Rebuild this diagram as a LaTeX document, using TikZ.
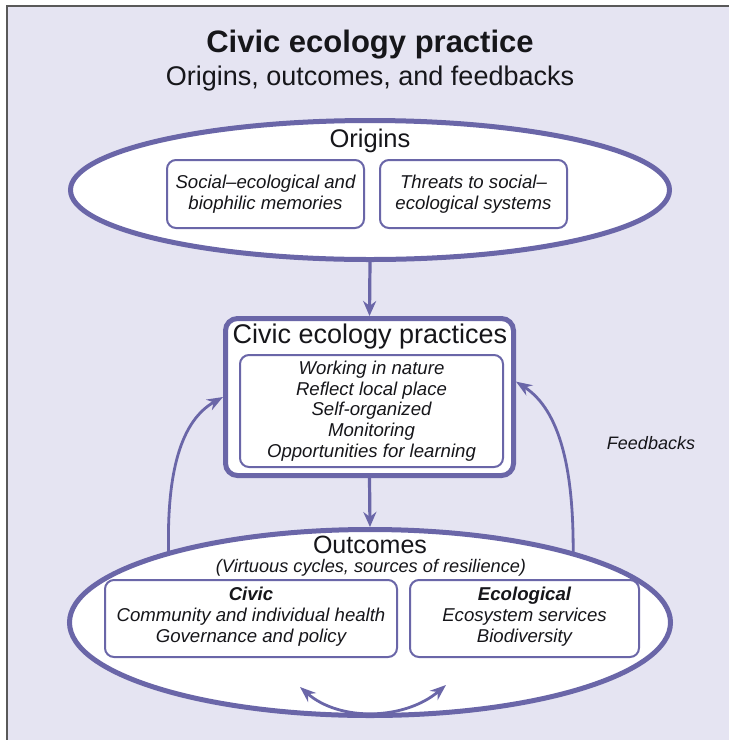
\documentclass[tikz,border=0pt]{standalone}
\usepackage{fontspec}
\setmainfont{Liberation Sans}
\usetikzlibrary{shapes.geometric,arrows.meta}
\definecolor{bgl}{RGB}{229,228,242}
\definecolor{pur}{RGB}{106,102,168}
\definecolor{txt}{RGB}{22,22,26}
\tikzset{
  bigshape/.style={draw=pur, line width=5pt, fill=white, inner sep=0pt},
  inbox/.style={draw=pur, line width=2pt, fill=white, rounded corners=9pt, inner sep=0pt},
  head/.style={text=txt, font=\fontsize{25.5}{30}\selectfont, anchor=base},
  body/.style={text=txt, font=\fontsize{18.6}{21}\selectfont\itshape, align=center},
  mainarrow/.style={draw=pur, line width=3.2pt, -{Stealth[length=15pt,width=13pt]}},
  fbarrow/.style={draw=pur, line width=2.8pt, -{Stealth[length=16pt,width=12pt]}},
}
\begin{document}
\begin{tikzpicture}[x=1pt,y=-1pt]
\useasboundingbox (0,0) rectangle (729,740);
\fill[white] (0,0) rectangle (729,740);
\fill[bgl] (7,6) rectangle (729,740);
\draw[line width=1.5pt, black!65] (7,740) -- (7,6) -- (729,6);

% titles
\node[text=txt, font=\fontsize{31}{36}\selectfont\bfseries, anchor=base] (title) at (370,52) {Civic ecology practice};
\node[text=txt, font=\fontsize{27}{32}\selectfont, anchor=base] (subtitle) at (370,85) {Origins, outcomes, and feedbacks};

% practices box (shape)
\node[bigshape, rounded corners=12pt, minimum width=288pt, minimum height=157pt] (prac) at (369.5,397) {};

% feedback arrows (below the outcomes ellipse)
\coordinate (fbl) at (169,565);
\coordinate (fbr) at (573,565);
\draw[fbarrow] (fbl) .. controls (165,470) and (182,420) .. (prac.west);
\draw[fbarrow] (fbr) .. controls (575,470) and (560,410) .. (prac.6);

% origins ellipse
\node[bigshape, ellipse, minimum width=599pt, minimum height=139pt] (orig) at (370,190) {};
\node[head] (origt) at (370,147) {Origins};
\node[inbox, minimum width=197pt, minimum height=68pt] (o1) at (265.5,194) {};
\node[body] at (o1.center) {Social–ecological and\\biophilic memories};
\node[inbox, minimum width=187pt, minimum height=68pt] (o2) at (473.5,194) {};
\node[body] at (o2.center) {Threats to social–\\ecological systems};

% practices contents
\node[head, font=\fontsize{27}{32}\selectfont] (pract) at (370,343) {Civic ecology practices};
\node[inbox, minimum width=263pt, minimum height=112pt] (p1) at (371.5,411) {};
\node[body, font=\fontsize{18.6}{20.75}\selectfont\itshape] at (p1.center) {Working in nature\\Reflect local place\\Self-organized\\Monitoring\\Opportunities for learning};

% outcomes ellipse
\node[bigshape, ellipse, minimum width=601pt, minimum height=186pt] (outc) at (370,622.5) {};
\node[head, font=\fontsize{25}{28}\selectfont] (outct) at (370,553) {Outcomes};
\node[body, anchor=base, font=\fontsize{18.2}{21}\selectfont\itshape] (virt) at (371,572) {(Virtuous cycles, sources of resilience)};
\node[inbox, minimum width=292pt, minimum height=77pt] (c1) at (251,618.5) {};
\node[body, anchor=base] (c1a) at (251,600) {\bfseries Civic};
\node[body, anchor=base] (c1b) at (251,621) {Community and individual health};
\node[body, anchor=base] (c1c) at (251,642) {Governance and policy};
\node[inbox, minimum width=229pt, minimum height=77pt] (c2) at (524.5,618.5) {};
\node[body, anchor=base] (c2a) at (524.5,600) {\bfseries Ecological};
\node[body, anchor=base] (c2b) at (524.5,621) {Ecosystem services};
\node[body, anchor=base] (c2c) at (524.5,642) {Biodiversity};

% double arrow between civic and ecological
\coordinate (da) at (300,687);
\coordinate (db) at (446,685);
\draw[fbarrow, {Stealth[length=16pt,width=12pt]}-{Stealth[length=16pt,width=12pt]}] (da) .. controls (340,722) and (405,720) .. (db);

% main arrows
\draw[mainarrow] (orig.south) -- (prac.north);
\draw[mainarrow] (prac.south) -- (outc.north);

% feedbacks label
\node[body, anchor=base, font=\fontsize{18}{21}\selectfont\itshape] (fbt) at (651,449) {Feedbacks};
\end{tikzpicture}
\end{document}
